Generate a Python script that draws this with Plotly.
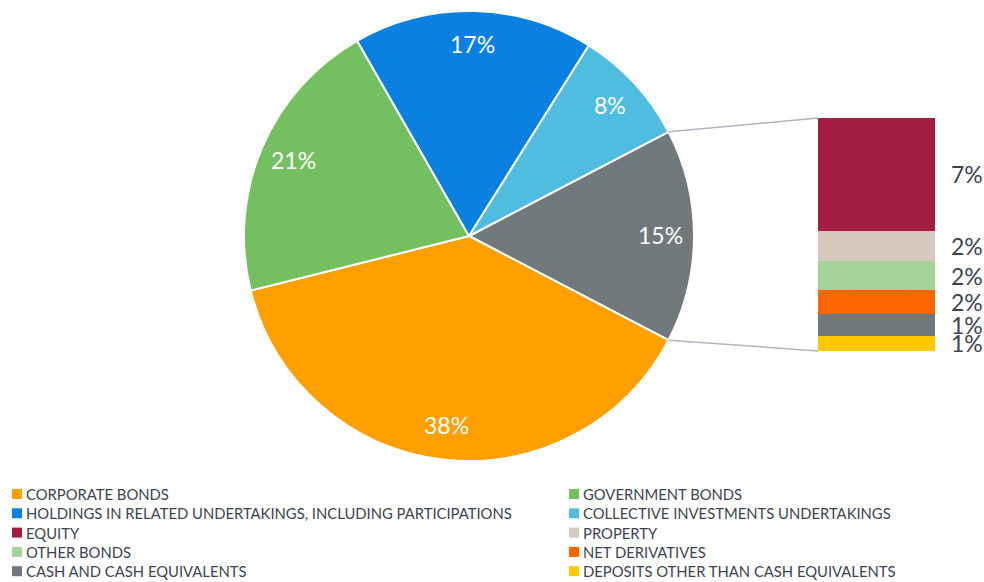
import math
import plotly.graph_objects as go

W, H = 984, 582

# Main pie categories; the residual slice is broken out into the stacked bar
pie_labels = [
    "CORPORATE BONDS",
    "GOVERNMENT BONDS",
    "HOLDINGS IN RELATED UNDERTAKINGS, INCLUDING PARTICIPATIONS",
    "COLLECTIVE INVESTMENTS UNDERTAKINGS",
]
pie_values = [38.4, 20.6, 17.2, 8.4]
pie_colors = ["#FFA000", "#74BF60", "#0A80E0", "#50BDE0"]

# Breakdown of the residual slice (top of bar first)
bar_labels = [
    "EQUITY",
    "PROPERTY",
    "OTHER BONDS",
    "NET DERIVATIVES",
    "CASH AND CASH EQUIVALENTS",
    "DEPOSITS OTHER THAN CASH EQUIVALENTS",
]
bar_values = [7.4, 2.0, 1.9, 1.6, 1.4, 1.0]
bar_colors = ["#A31E40", "#D6C8BD", "#A3D397", "#FF6600", "#71797C", "#FFC800"]
other_color = "#71797C"

FONT = "Lato, 'Open Sans', sans-serif"
TEXT_COLOR = "#3d4451"

# Geometry (pixels)
cx, cy, r = 469, 236, 225
bar_x0, bar_x1, bar_top, bar_bottom = 818, 935, 118, 351

other_total = sum(bar_values)
slice_values = [other_total] + pie_values
slice_colors = [other_color] + pie_colors
total = sum(slice_values)
other_deg = 360 * other_total / total
rotation = 90 - other_deg / 2  # residual slice faces the bar


def px_to_paper(x, y):
    return x / W, 1 - y / H


fig = go.Figure()

fig.add_trace(go.Pie(
    values=slice_values,
    labels=["OTHER"] + pie_labels,
    marker=dict(colors=slice_colors, line=dict(color="white", width=2)),
    sort=False,
    direction="clockwise",
    rotation=rotation,
    textinfo="none",
    hoverinfo="label+value",
    showlegend=False,
    domain=dict(x=[(cx - r) / W, (cx + r) / W],
                y=[1 - (cy + r) / H, 1 - (cy - r) / H]),
))

# Stacked bar: bottom segment first
for name, val, col in reversed(list(zip(bar_labels, bar_values, bar_colors))):
    fig.add_trace(go.Bar(
        x=[0], y=[val], width=1, name=name,
        marker=dict(color=col, line=dict(width=0)),
        showlegend=False, hoverinfo="name+y",
    ))

annotations = []
shapes = []

# Percent labels on the pie slices
start = rotation
for v in slice_values:
    span = 360 * v / total
    mid = math.radians(start + span / 2)
    lx = cx + 0.85 * r * math.sin(mid)
    ly = cy - 0.85 * r * math.cos(mid) - 1
    px, py = px_to_paper(lx, ly)
    annotations.append(dict(
        x=px, y=py, xref="paper", yref="paper", text=f"{v:.0f}%",
        showarrow=False, xanchor="center", yanchor="middle",
        font=dict(family=FONT, size=23, color="white"),
    ))
    start += span

# Percent labels beside the bar segments
cum = 0
for val in reversed(bar_values):
    annotations.append(dict(
        x=0.5, y=cum + val / 2, xref="x", yref="y", text=f"{val:.0f}%",
        showarrow=False, xanchor="left", yanchor="middle", xshift=14,
        font=dict(family=FONT, size=23, color=TEXT_COLOR),
    ))
    cum += val

# Connector lines from the residual slice to the bar
for ang, by in ((rotation, bar_top), (rotation + other_deg, bar_bottom)):
    a = math.radians(ang)
    sx = cx + r * math.sin(a)
    sy = cy - r * math.cos(a)
    x0, y0 = px_to_paper(sx, sy)
    x1, y1 = px_to_paper(bar_x0, by)
    shapes.append(dict(type="line", xref="paper", yref="paper",
                       x0=x0, y0=y0, x1=x1, y1=y1,
                       line=dict(color="#AEB6C0", width=1.5)))

# Two-column legend below the chart
legend_names = pie_labels + bar_labels
legend_colors = pie_colors + bar_colors
col_x = [12, 569]
row_y0, row_step, box = 494, 19.3, 10
for i, (name, col) in enumerate(zip(legend_names, legend_colors)):
    lx = col_x[i % 2]
    ly = row_y0 + row_step * (i // 2)
    x0, y0 = px_to_paper(lx, ly - box / 2)
    x1, y1 = px_to_paper(lx + box, ly + box / 2)
    shapes.append(dict(type="rect", xref="paper", yref="paper",
                       x0=x0, y0=y0, x1=x1, y1=y1,
                       fillcolor=col, line=dict(width=0)))
    tx, ty = px_to_paper(lx + box + 2, ly)
    annotations.append(dict(
        x=tx, y=ty, xref="paper", yref="paper", text=name,
        showarrow=False, xanchor="left", yanchor="middle",
        font=dict(family=FONT, size=14.8, color=TEXT_COLOR),
    ))

fig.update_layout(
    width=W, height=H,
    margin=dict(l=0, r=0, t=0, b=0),
    paper_bgcolor="white", plot_bgcolor="white",
    barmode="stack", bargap=0,
    xaxis=dict(domain=[bar_x0 / W, bar_x1 / W], range=[-0.5, 0.5],
               visible=False, fixedrange=True),
    yaxis=dict(domain=[1 - bar_bottom / H, 1 - bar_top / H],
               range=[0, other_total], visible=False, fixedrange=True),
    annotations=annotations,
    shapes=shapes,
    showlegend=False,
)

fig.write_html("out.html")
